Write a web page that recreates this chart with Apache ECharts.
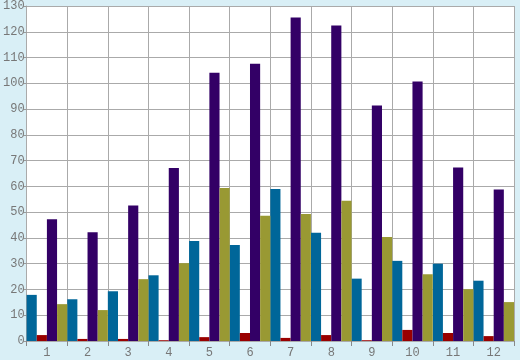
<!DOCTYPE html>
<html><head><meta charset="utf-8">
<script src="https://cdn.jsdelivr.net/npm/echarts@6/dist/echarts.min.js"></script>
<style>html,body{margin:0;padding:0;background:#d9eff6;}#c{width:520px;height:360px;}</style>
</head><body><div id="c"></div>
<script>
var categories = ['1','2','3','4','5','6','7','8','9','10','11','12'];
var seriesBlue   = [17.9, 16.2, 19.3, 25.5, 38.8, 37.3, 59.0, 42.0, 24.2, 31.1, 30.0, 23.4];
var seriesRed    = [2.3, 0.8, 0.8, 0.3, 1.5, 3.1, 1.2, 2.3, 0.3, 4.3, 3.1, 1.9];
var seriesPurple = [47.2, 42.2, 52.6, 67.1, 104.1, 107.6, 125.5, 122.4, 91.4, 100.7, 67.3, 58.8];
var seriesOlive  = [14.3, 12.0, 24.0, 30.2, 59.4, 48.6, 49.3, 54.4, 40.4, 25.9, 20.1, 15.1];

var chart = echarts.init(document.getElementById('c'));
var font = 'Liberation Mono';
function bar(data, color){
  return {type:'bar', data:data, barGap:'0%', barCategoryGap:'0%', itemStyle:{color:color}, animation:false};
}
chart.setOption({
  backgroundColor:'#d9eff6',
  animation:false,
  grid:{left:26, right:6, top:5, bottom:19, show:true, backgroundColor:'#ffffff', borderWidth:0},
  xAxis:{type:'category', data:categories,
    axisLine:{show:false},
    axisTick:{show:true, length:5, lineStyle:{color:'#888888'}},
    axisLabel:{color:'#777777', fontFamily:font, fontSize:12, margin:6},
    splitLine:{show:true, lineStyle:{color:'#aaaaaa', width:1}}},
  yAxis:{type:'value', min:0, max:130, interval:10,
    axisLine:{show:true, lineStyle:{color:'#aaaaaa'}},
    axisTick:{show:true, length:3, lineStyle:{color:'#999999'}},
    axisLabel:{color:'#777777', fontFamily:font, fontSize:12, margin:2},
    splitLine:{show:true, lineStyle:{color:'#aaaaaa', width:1}}},
  series:[bar(seriesBlue,'#006699'), bar(seriesRed,'#990000'), bar(seriesPurple,'#330066'), bar(seriesOlive,'#999933')]
});
</script></body></html>
